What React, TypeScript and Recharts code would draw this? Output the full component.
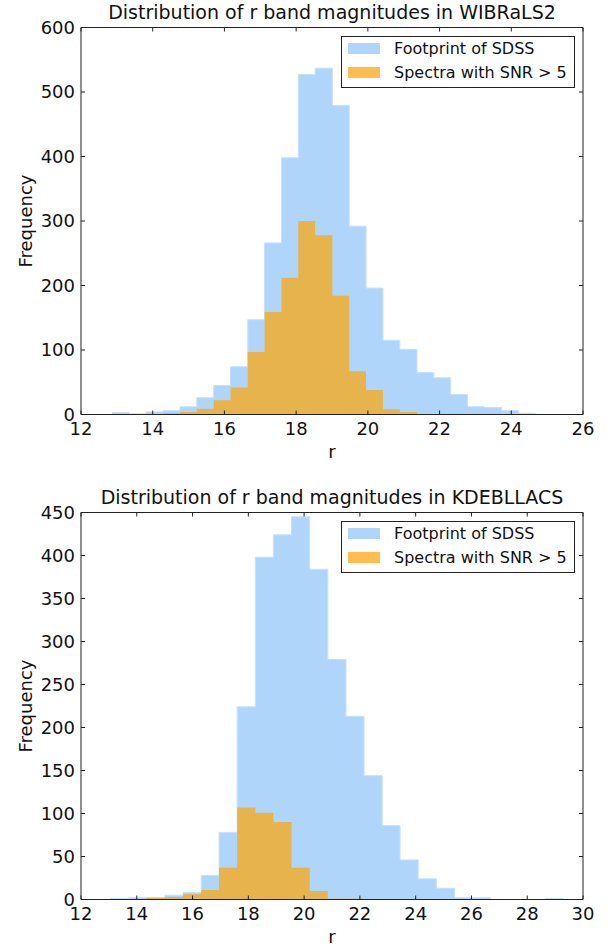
import { ComposedChart, Area, XAxis, YAxis } from 'recharts';

const FONT = '"DejaVu Sans", sans-serif';
const SDSS_COLOR = '#b0d5fb';
const SNR_COLOR = '#e6b34c';
const SNR_KEY_COLOR = '#ffbd4f';
const AXIS_COLOR = '#222';

// WIBRaLS2 histogram (25 bins)
const wibralsEdges = [
  12.87, 13.34, 13.81, 14.29, 14.76, 15.23, 15.7, 16.17, 16.65, 17.12, 17.59, 18.06, 18.53,
  19.01, 19.48, 19.95, 20.42, 20.89, 21.37, 21.84, 22.31, 22.78, 23.25, 23.73, 24.2, 24.67,
];
const wibralsSdss = [3, 1, 4, 6, 12, 26, 45, 74, 147, 266, 398, 527, 537, 479, 292, 196, 115, 101, 65, 57, 31, 12, 11, 6, 2];
const wibralsSnr = [0, 0, 0, 2, 4, 9, 22, 42, 97, 159, 212, 300, 278, 184, 67, 38, 8, 4, 0, 0, 0, 0, 0, 0, 0];
const wibralsXTicks = [12, 14, 16, 18, 20, 22, 24, 26];
const wibralsYTicks = [0, 100, 200, 300, 400, 500, 600];

// KDEBLLACS histogram (25 bins)
const kdeEdges = [
  13.06, 13.71, 14.36, 15.01, 15.66, 16.31, 16.95, 17.6, 18.25, 18.9, 19.55, 20.2, 20.85,
  21.5, 22.15, 22.8, 23.44, 24.09, 24.74, 25.39, 26.04, 26.69, 27.34, 27.99, 28.64, 29.29,
];
const kdeSdss = [1, 2, 2, 5, 8, 28, 78, 224, 398, 424, 445, 384, 279, 213, 144, 86, 46, 24, 13, 2, 2, 0, 0, 0, 1];
const kdeSnr = [0, 0, 2, 3, 6, 11, 37, 107, 101, 90, 37, 10, 1, 1, 0, 0, 0, 0, 0, 0, 0, 0, 0, 0, 0];
const kdeXTicks = [12, 14, 16, 18, 20, 22, 24, 26, 28, 30];
const kdeYTicks = [0, 50, 100, 150, 200, 250, 300, 350, 400, 450];

const seriesNames = ['Footprint of SDSS', 'Spectra with SNR > 5'];

// step areas need one extra point at the closing edge
const toSteps = (edges: number[], sdss: number[], snr: number[]) =>
  edges.map((edge, i) => ({
    edge,
    sdss: i < sdss.length ? sdss[i] : 0,
    snr: i < snr.length ? snr[i] : 0,
  }));

const tickStyle = { fontSize: 18, fill: '#111', fontFamily: FONT };
const blank = () => '';

interface PanelProps {
  title: string;
  top: number;
  height: number;
  bottomMargin: number;
  edges: number[];
  sdss: number[];
  snr: number[];
  xTicks: number[];
  yTicks: number[];
}

function Panel({ title, top, height, bottomMargin, edges, sdss, snr, xTicks, yTicks }: PanelProps) {
  const data = toSteps(edges, sdss, snr);
  const xDomain = [xTicks[0], xTicks[xTicks.length - 1]];
  const yDomain = [yTicks[0], yTicks[yTicks.length - 1]];

  return (
    <div style={{ position: 'absolute', left: 0, top, width: 615, height }}>
      <div
        style={{
          position: 'absolute',
          left: 81,
          width: 502,
          top: 1,
          textAlign: 'center',
          fontFamily: FONT,
          fontSize: 19,
          color: '#111',
          whiteSpace: 'nowrap',
        }}
      >
        {title}
      </div>
      <ComposedChart
        width={615}
        height={height}
        data={data}
        margin={{ top: 26.5, right: 31, bottom: bottomMargin, left: 0 }}
      >
        <XAxis
          dataKey="edge"
          type="number"
          domain={xDomain}
          ticks={xTicks}
          allowDataOverflow
          height={40}
          stroke={AXIS_COLOR}
          tickSize={-4}
          tickMargin={11.5}
          tick={tickStyle}
          label={{
            content: ({ viewBox }: any) => (
              <text
                x={viewBox.x + viewBox.width / 2}
                y={viewBox.y + 43.5}
                textAnchor="middle"
                fontSize={18}
                fontFamily={FONT}
                fill="#111"
              >
                r
              </text>
            ),
          }}
        />
        {/* mirrored frame: top and right axes with inward ticks */}
        <XAxis
          xAxisId="top"
          orientation="top"
          dataKey="edge"
          type="number"
          domain={xDomain}
          ticks={xTicks}
          allowDataOverflow
          height={1}
          stroke={AXIS_COLOR}
          tickSize={-4}
          tickFormatter={blank}
        />
        <YAxis
          type="number"
          domain={yDomain}
          ticks={yTicks}
          allowDataOverflow
          width={81}
          stroke={AXIS_COLOR}
          tickSize={-4}
          tickMargin={10}
          tick={tickStyle}
          label={{
            content: ({ viewBox }: any) => {
              const cx = viewBox.x + 25;
              const cy = viewBox.y + viewBox.height / 2;
              return (
                <text
                  x={cx}
                  y={cy}
                  transform={`rotate(-90 ${cx} ${cy})`}
                  textAnchor="middle"
                  dominantBaseline="central"
                  fontSize={18}
                  fontFamily={FONT}
                  fill="#111"
                >
                  Frequency
                </text>
              );
            },
          }}
        />
        <YAxis
          yAxisId="right"
          orientation="right"
          type="number"
          domain={yDomain}
          ticks={yTicks}
          allowDataOverflow
          width={1}
          stroke={AXIS_COLOR}
          tickSize={-4}
          tickFormatter={blank}
        />
        <Area
          dataKey="sdss"
          type="stepAfter"
          fill={SDSS_COLOR}
          fillOpacity={1}
          stroke="#c6e0fb"
          strokeWidth={1}
          isAnimationActive={false}
        />
        <Area
          dataKey="snr"
          type="stepAfter"
          fill={SNR_COLOR}
          fillOpacity={1}
          stroke="none"
          isAnimationActive={false}
        />
        {/* invisible series so the mirrored axes get a domain */}
        <Area
          xAxisId="top"
          yAxisId="right"
          dataKey="sdss"
          type="stepAfter"
          fill="none"
          stroke="none"
          isAnimationActive={false}
        />
      </ComposedChart>

      {/* Legend */}
      <div
        style={{
          position: 'absolute',
          left: 341,
          top: 35.5,
          width: 232,
          height: 50,
          border: '1px solid #222',
          background: '#fff',
          fontFamily: FONT,
          fontSize: 16,
          color: '#111',
        }}
      >
        {seriesNames.map((name, i) => (
          <div
            key={name}
            style={{ position: 'absolute', left: 6, top: 6 + i * 23.5, height: 12, display: 'flex', alignItems: 'center' }}
          >
            <div style={{ width: 32, height: 11, background: i === 0 ? SDSS_COLOR : SNR_KEY_COLOR }} />
            <span style={{ marginLeft: 14, whiteSpace: 'nowrap' }}>{name}</span>
          </div>
        ))}
      </div>
    </div>
  );
}

export default function App() {
  return (
    <div style={{ position: 'absolute', left: 0, top: 0, width: 615, height: 946, background: '#fff', overflow: 'hidden' }}>
      <Panel
        title="Distribution of r band magnitudes in WIBRaLS2"
        top={0}
        height={470}
        bottomMargin={15.5}
        edges={wibralsEdges}
        sdss={wibralsSdss}
        snr={wibralsSnr}
        xTicks={wibralsXTicks}
        yTicks={wibralsYTicks}
      />
      <Panel
        title="Distribution of r band magnitudes in KDEBLLACS"
        top={485}
        height={461}
        bottomMargin={6.5}
        edges={kdeEdges}
        sdss={kdeSdss}
        snr={kdeSnr}
        xTicks={kdeXTicks}
        yTicks={kdeYTicks}
      />
    </div>
  );
}
